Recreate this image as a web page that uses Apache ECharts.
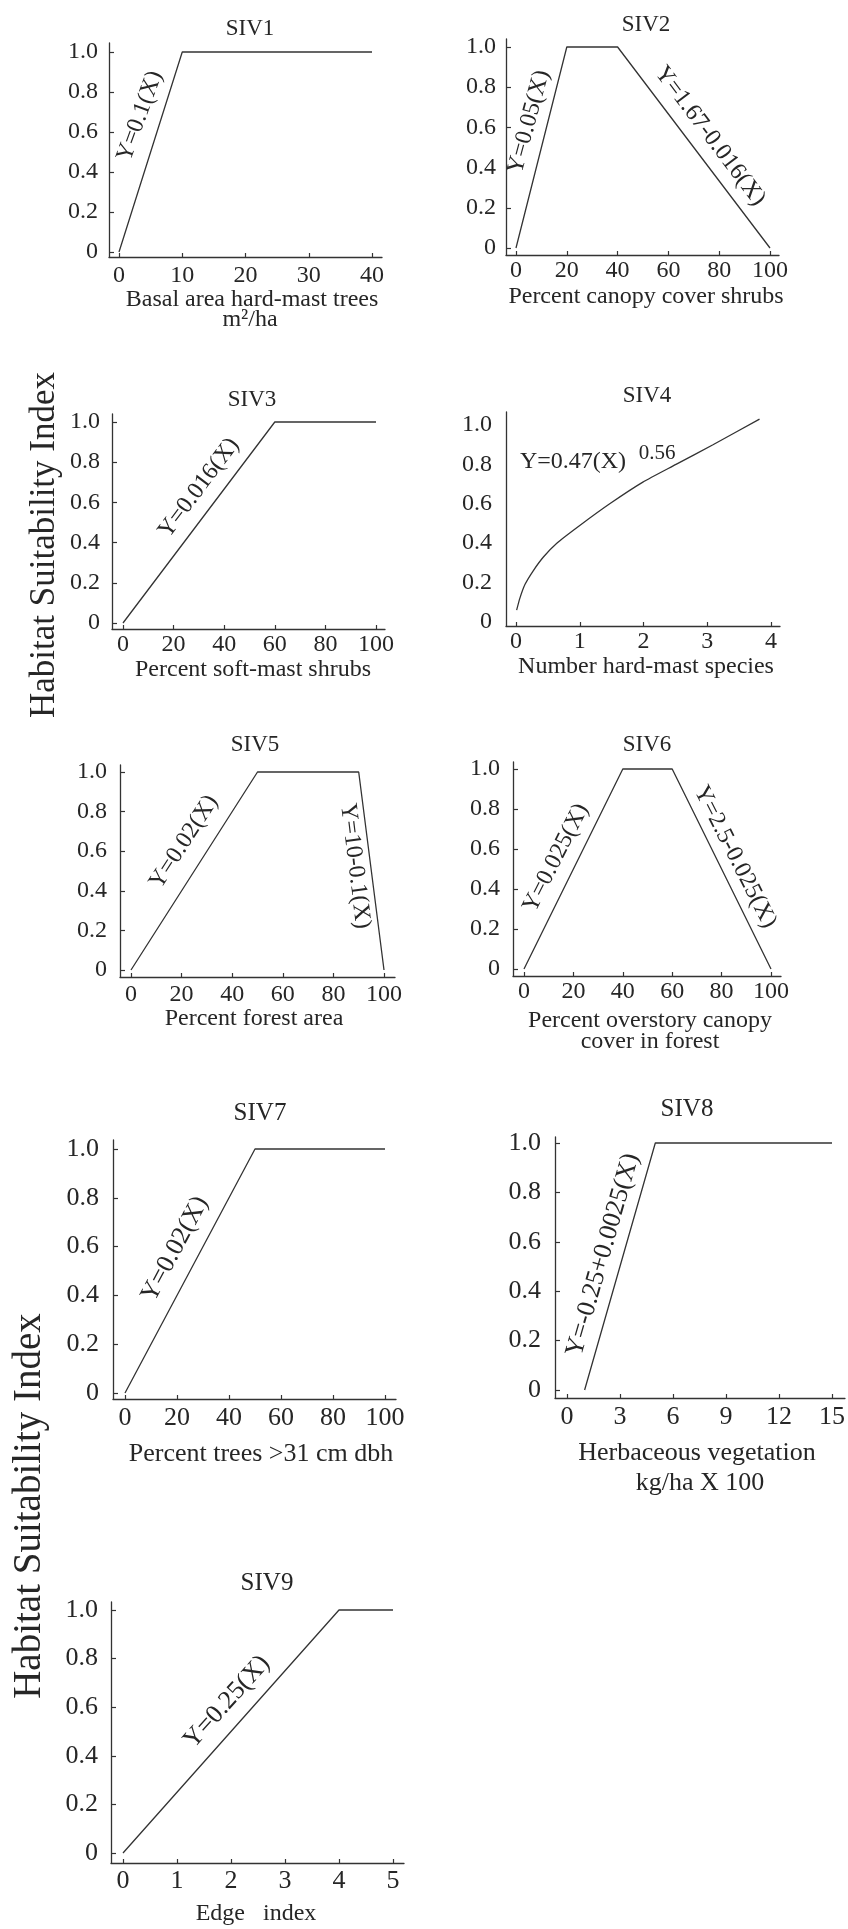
<!DOCTYPE html>
<html><head><meta charset="utf-8">
<script src="https://cdn.jsdelivr.net/npm/echarts@6/dist/echarts.min.js"></script>
<style>html,body{margin:0;padding:0;background:#fff}#chart{width:848px;height:1929px}</style>
</head><body><div id="chart"></div>
<script>
// ---------------- DATA ----------------
const yTickValues = [0, 0.2, 0.4, 0.6, 0.8, 1.0];

const siv1X = [0, 10, 40];          const siv1Y = [0, 1, 1];
const siv2X = [0, 20, 40, 100];     const siv2Y = [0, 1, 1, 0];
const siv3X = [0, 60, 100];         const siv3Y = [0, 1, 1];
const siv4X = [0.01, 0.06, 0.14, 0.27, 0.43, 0.64, 1.0, 1.47, 1.99, 2.51, 3.09, 3.82];
const siv4Y = [0.06, 0.12, 0.19, 0.26, 0.33, 0.40, 0.49, 0.60, 0.71, 0.80, 0.90, 1.03];
const siv5X = [0, 50, 90, 100];     const siv5Y = [0, 1, 1, 0];
const siv6X = [0, 40, 60, 100];     const siv6Y = [0, 1, 1, 0];
const siv7X = [0, 50, 100];         const siv7Y = [0, 1, 1];
const siv8X = [1, 5, 15];           const siv8Y = [0, 1, 1];
const siv9X = [0, 4, 5];            const siv9Y = [0, 1, 1];

const xTicks1 = [0, 10, 20, 30, 40];
const xTicksPct = [0, 20, 40, 60, 80, 100];
const xTicks4 = [0, 1, 2, 3, 4];
const xTicks8 = [0, 3, 6, 9, 12, 15];
const xTicks9 = [0, 1, 2, 3, 4, 5];

const panelTitles = ['SIV1', 'SIV2', 'SIV3', 'SIV4', 'SIV5', 'SIV6', 'SIV7', 'SIV8', 'SIV9'];
const axisNames = [
  ['Basal area hard-mast trees', 'm\u00b2/ha'],
  ['Percent canopy cover shrubs'],
  ['Percent soft-mast shrubs'],
  ['Number hard-mast species'],
  ['Percent forest area'],
  ['Percent overstory canopy', 'cover in forest'],
  ['Percent trees >31 cm dbh'],
  ['Herbaceous vegetation', 'kg/ha X 100'],
  ['Edge   index']
];
const yAxisTitle = 'Habitat Suitability Index';
const equationTexts = ['Y=0.1(X)', 'Y=0.05(X)', 'Y=1.67-0.016(X)', 'Y=0.016(X)', 'Y=0.47(X)', '0.56',
  'Y=0.02(X)', 'Y=10-0.1(X)', 'Y=0.025(X)', 'Y=2.5-0.025(X)', 'Y=0.02(X)', 'Y=-0.25+0.0025(X)', 'Y=0.25(X)'];

const seriesX = [siv1X, siv2X, siv3X, siv4X, siv5X, siv6X, siv7X, siv8X, siv9X];
const seriesY = [siv1Y, siv2Y, siv3Y, siv4Y, siv5Y, siv6Y, siv7Y, siv8Y, siv9Y];
const xTickSets = [xTicks1, xTicksPct, xTicksPct, xTicks4, xTicksPct, xTicksPct, xTicksPct, xTicks8, xTicks9];

// ---------------- LAYOUT ----------------
// x: [axisLeft, axisRight, firstTickPx, lastTickPx]; y: [axisTop, axisBottom, onePx, zeroPx]
const layout = [
  { x: [109, 382, 119, 372], y: [43, 257, 52, 252], fs: 24, title: [250, 29, 23], yTicks: true },
  { x: [506, 779, 516, 770], y: [39, 255, 47, 248], fs: 24, title: [646, 25, 23], yTicks: true },
  { x: [112, 385, 123, 376], y: [414, 629, 422, 623], fs: 24, title: [252, 400, 23], yTicks: true },
  { x: [506, 780, 516, 771], y: [412, 626, 425, 622], fs: 24, title: [647, 396, 23], yTicks: false },
  { x: [120, 395, 131, 384], y: [765, 977, 772, 970], fs: 24, title: [255, 745, 23], yTicks: true },
  { x: [513, 781, 524, 771], y: [762, 976, 769, 969], fs: 24, title: [647, 745, 23], yTicks: true },
  { x: [113, 396, 125, 385], y: [1140, 1399, 1149, 1393], fs: 26, title: [260, 1113, 25], yTicks: true },
  { x: [555, 846, 567, 833], y: [1137, 1398, 1143, 1390], fs: 26, title: [687, 1109, 25], yTicks: true },
  { x: [111, 404, 123, 393], y: [1602, 1863, 1610, 1853], fs: 26, title: [267, 1583, 25], yTicks: true }
];
// axis-name line centres [x, y, fontSize]
const namePos = [
  [[252, 300, 24], [250, 320, 24]],
  [[646, 297, 24]],
  [[253, 670, 24]],
  [[646, 667, 24]],
  [[254, 1019, 24]],
  [[650, 1021, 24], [650, 1042, 24]],
  [[261, 1454, 26]],
  [[697, 1453, 26], [700, 1483, 26]],
  [[256, 1914, 24]]
];
// equation label [x, y, angleDeg, fontSize]
const eqPos = [
  [140, 116, 70, 24], [529, 122, 75, 24], [710, 136, -53, 24], [199, 488, 53, 24],
  [573, 462, 0, 24], [657, 453, 0, 21],
  [184, 842, 57, 24], [355, 866, -83, 24], [556, 858, 63, 24], [735, 857, -63, 24],
  [175, 1249, 62, 26], [603, 1255, 74, 26], [227, 1702, 48, 26]
];
const xLabelGap = [20, 17, 17, 17, 19, 17, 20, 20, 19];
const yLabelGap = [11, 10, 12, 14, 13, 13, 14, 14, 13];

const FONT = '"Liberation Serif", "Times New Roman", serif';
const INK = '#262626';
const LINE = '#333';

const grids = [], xAxes = [], yAxes = [], series = [], graphics = [];
layout.forEach((p, i) => {
  const [L, R, fx, lx] = p.x;
  const ticks = xTickSets[i];
  const v0 = ticks[0], v1 = ticks[ticks.length - 1];
  const ux = (lx - fx) / (v1 - v0);
  const xmin = v0 - (fx - L) / ux, xmax = v1 + (R - lx) / ux;
  const [T, B, oy, zy] = p.y;
  const uy = zy - oy;
  const ymin = -(B - zy) / uy, ymax = 1 + (oy - T) / uy;
  grids.push({ left: L, top: T, width: R - L, height: B - T });
  xAxes.push({
    type: 'value', gridIndex: i, min: xmin, max: xmax,
    axisLine: { show: true, onZero: false, lineStyle: { color: LINE, width: 1.3 } },
    axisTick: { show: true, inside: true, length: 4, customValues: ticks, lineStyle: { color: LINE, width: 1.2 } },
    axisLabel: { customValues: ticks, margin: xLabelGap[i] - Math.round(p.fs * 0.55), fontSize: p.fs, fontFamily: FONT, color: INK },
    splitLine: { show: false }
  });
  yAxes.push({
    type: 'value', gridIndex: i, min: ymin, max: ymax,
    axisLine: { show: true, onZero: false, lineStyle: { color: LINE, width: 1.3 } },
    axisTick: { show: p.yTicks, inside: true, length: 5, customValues: yTickValues, lineStyle: { color: LINE, width: 1.2 } },
    axisLabel: { customValues: yTickValues, margin: yLabelGap[i], fontSize: p.fs, fontFamily: FONT, color: INK,
      formatter: v => (Math.abs(v) < 1e-9 ? '0' : v.toFixed(1)) },
    splitLine: { show: false }
  });
  series.push({
    type: 'line', xAxisIndex: i, yAxisIndex: i, symbol: 'none', silent: true,
    smooth: i === 3 ? 0.2 : false,
    data: seriesX[i].map((x, k) => [x, seriesY[i][k]]),
    lineStyle: { color: LINE, width: 1.3 }
  });
  graphics.push({ type: 'text', x: p.title[0], y: p.title[1],
    style: { text: panelTitles[i], fontSize: p.title[2], fontFamily: FONT, fill: INK, align: 'center', verticalAlign: 'middle' } });
  axisNames[i].forEach((t, k) => {
    const np = namePos[i][k];
    graphics.push({ type: 'text', x: np[0], y: np[1],
      style: { text: t, fontSize: np[2], fontFamily: FONT, fill: INK, align: 'center', verticalAlign: 'middle' } });
  });
});
equationTexts.forEach((t, k) => {
  const e = eqPos[k];
  graphics.push({ type: 'text', x: e[0], y: e[1], rotation: e[2] * Math.PI / 180,
    style: { text: t, fontSize: e[3], fontFamily: FONT, fill: INK, align: 'center', verticalAlign: 'middle' } });
});
[[45, 545, 35], [30, 1506, 39]].forEach(h => {
  graphics.push({ type: 'text', x: h[0], y: h[1], rotation: Math.PI / 2,
    style: { text: yAxisTitle, fontSize: h[2], fontFamily: FONT, fill: INK, align: 'center', verticalAlign: 'middle' } });
});

const chart = echarts.init(document.getElementById('chart'), null, { renderer: 'canvas' });
chart.setOption({
  animation: false,
  backgroundColor: '#fff',
  grid: grids, xAxis: xAxes, yAxis: yAxes, series: series, graphic: graphics
});
</script></body></html>
